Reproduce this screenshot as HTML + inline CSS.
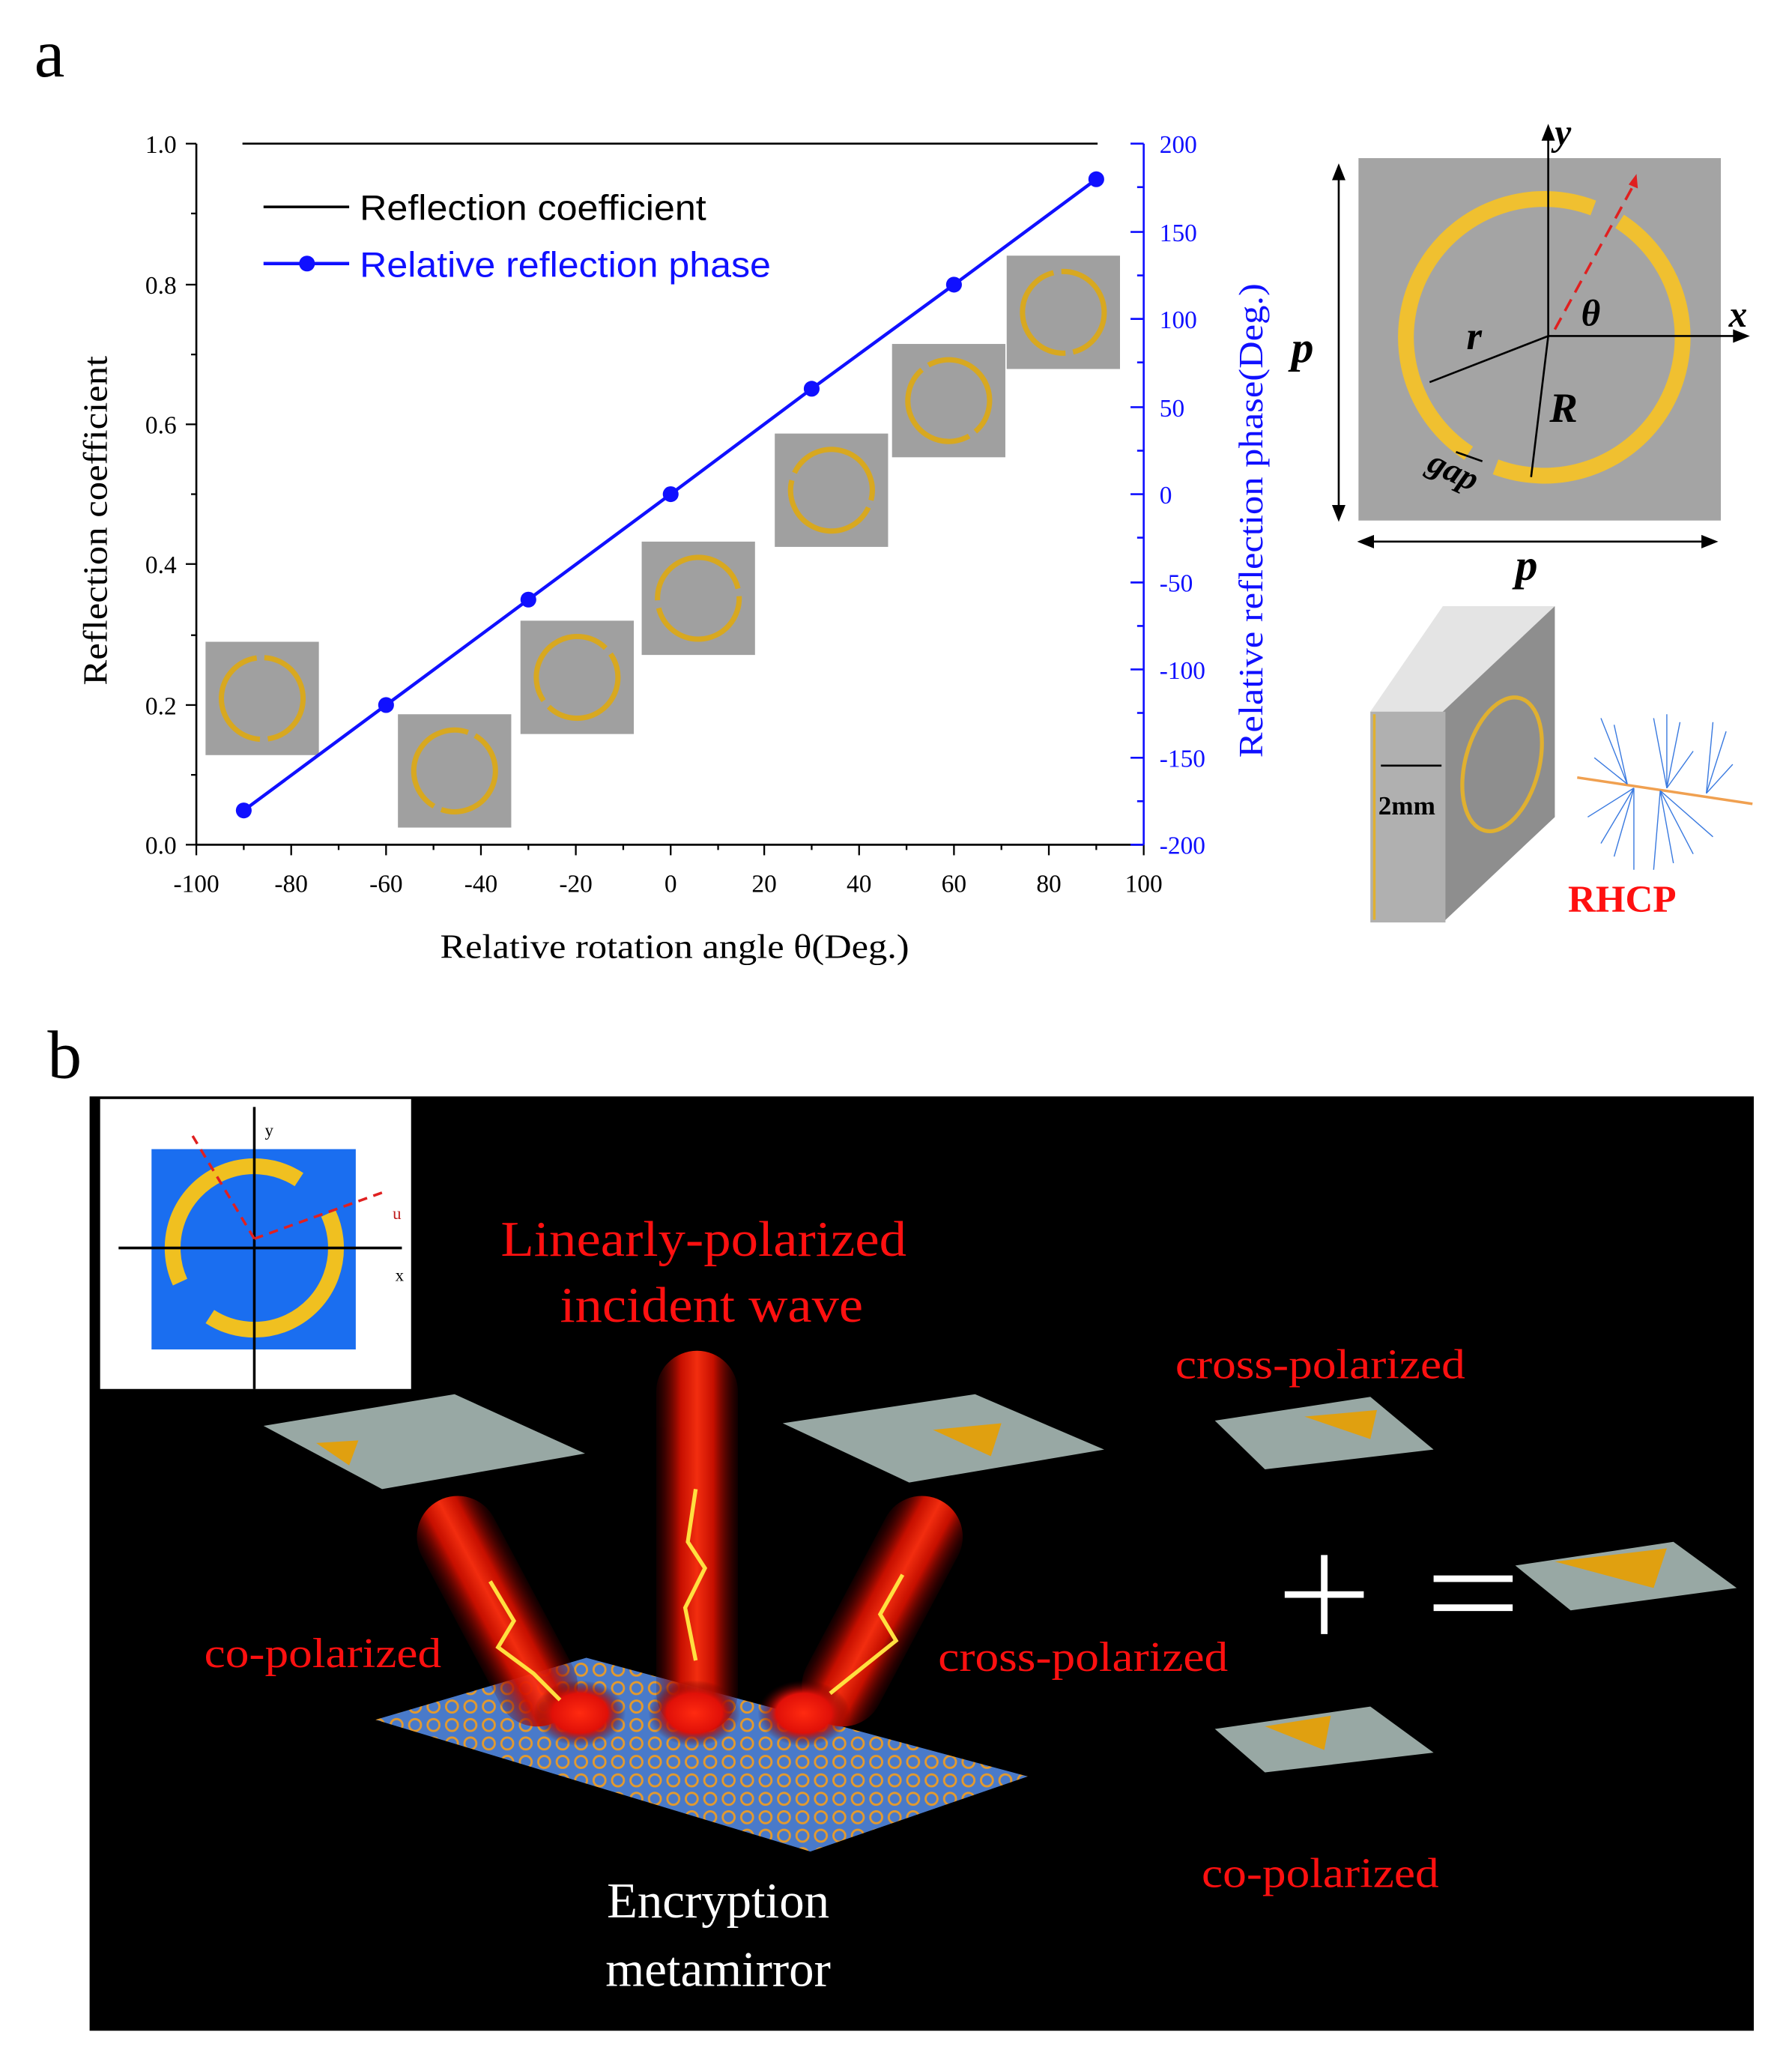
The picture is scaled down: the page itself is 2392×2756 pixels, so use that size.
<!DOCTYPE html>
<html><head><meta charset="utf-8"><style>
html,body{margin:0;padding:0;background:#fff;}
svg{display:block;}
text{font-family:"Liberation Serif",serif;}
</style></head><body>
<svg width="2392" height="2756" viewBox="0 0 1360 1567" preserveAspectRatio="none" xmlns="http://www.w3.org/2000/svg">
<defs>
<radialGradient id="glow" cx="50%" cy="50%" r="50%"><stop offset="0" stop-color="#ff2a10"/><stop offset="0.6" stop-color="#e01008"/><stop offset="1" stop-color="#400" stop-opacity="0"/></radialGradient>
<linearGradient id="beam" x1="0" x2="1"><stop offset="0" stop-color="#5a0000" stop-opacity="0.2"/><stop offset="0.3" stop-color="#d01000"/><stop offset="0.5" stop-color="#ff3010"/><stop offset="0.7" stop-color="#d01000"/><stop offset="1" stop-color="#5a0000" stop-opacity="0.2"/></linearGradient>
<pattern id="rings" width="14" height="14" patternUnits="userSpaceOnUse"><rect width="14" height="14" fill="#2a8ae8"/><circle cx="7" cy="7" r="4.5" fill="none" stroke="#e0b030" stroke-width="1.6"/></pattern>
</defs>
<rect width="1360" height="1567" fill="#fff"/>
<!-- Panel a -->
<text x="26" y="58" font-size="52">a</text>
<g stroke="#000" stroke-width="1.5" fill="none">
<line x1="149" y1="109" x2="149" y2="641"/>
<line x1="149" y1="641" x2="868" y2="641"/>
<line x1="184" y1="109" x2="833" y2="109"/>
</g>
<g stroke="#000" stroke-width="1.3">
<line x1="141" y1="109" x2="149" y2="109"/><line x1="145" y1="162" x2="149" y2="162"/>
<line x1="141" y1="216" x2="149" y2="216"/><line x1="145" y1="269" x2="149" y2="269"/>
<line x1="141" y1="322" x2="149" y2="322"/><line x1="145" y1="375" x2="149" y2="375"/>
<line x1="141" y1="428" x2="149" y2="428"/><line x1="145" y1="482" x2="149" y2="482"/>
<line x1="141" y1="535" x2="149" y2="535"/><line x1="145" y1="588" x2="149" y2="588"/>
<line x1="141" y1="641" x2="149" y2="641"/>
<line x1="149" y1="641" x2="149" y2="649"/><line x1="185" y1="641" x2="185" y2="645"/>
<line x1="221" y1="641" x2="221" y2="649"/><line x1="257" y1="641" x2="257" y2="645"/>
<line x1="293" y1="641" x2="293" y2="649"/><line x1="329" y1="641" x2="329" y2="645"/>
<line x1="365" y1="641" x2="365" y2="649"/><line x1="401" y1="641" x2="401" y2="645"/>
<line x1="437" y1="641" x2="437" y2="649"/><line x1="473" y1="641" x2="473" y2="645"/>
<line x1="509" y1="641" x2="509" y2="649"/><line x1="545" y1="641" x2="545" y2="645"/>
<line x1="580" y1="641" x2="580" y2="649"/><line x1="616" y1="641" x2="616" y2="645"/>
<line x1="652" y1="641" x2="652" y2="649"/><line x1="688" y1="641" x2="688" y2="645"/>
<line x1="724" y1="641" x2="724" y2="649"/><line x1="760" y1="641" x2="760" y2="645"/>
<line x1="796" y1="641" x2="796" y2="649"/><line x1="832" y1="641" x2="832" y2="645"/>
<line x1="868" y1="641" x2="868" y2="649"/>
</g>
<g font-size="19" text-anchor="end">
<text x="134" y="116">1.0</text><text x="134" y="223">0.8</text><text x="134" y="329">0.6</text>
<text x="134" y="435">0.4</text><text x="134" y="542">0.2</text><text x="134" y="648">0.0</text>
</g>
<g font-size="19" text-anchor="middle">
<text x="149" y="677">-100</text><text x="221" y="677">-80</text><text x="293" y="677">-60</text>
<text x="365" y="677">-40</text><text x="437" y="677">-20</text><text x="509" y="677">0</text>
<text x="580" y="677">20</text><text x="652" y="677">40</text><text x="724" y="677">60</text>
<text x="796" y="677">80</text><text x="868" y="677">100</text>
</g>
<text x="334" y="727" font-size="26" textLength="356" lengthAdjust="spacingAndGlyphs">Relative rotation angle θ(Deg.)</text>
<text transform="translate(81,520) rotate(-90)" font-size="26" textLength="250" lengthAdjust="spacingAndGlyphs">Reflection coefficient</text>
<g stroke="#1010ff" stroke-width="1.5">
<line x1="868" y1="109" x2="868" y2="641"/>
<line x1="858" y1="109" x2="868" y2="109"/><line x1="863" y1="142" x2="868" y2="142"/>
<line x1="858" y1="176" x2="868" y2="176"/><line x1="863" y1="209" x2="868" y2="209"/>
<line x1="858" y1="242" x2="868" y2="242"/><line x1="863" y1="275" x2="868" y2="275"/>
<line x1="858" y1="309" x2="868" y2="309"/><line x1="863" y1="342" x2="868" y2="342"/>
<line x1="858" y1="375" x2="868" y2="375"/><line x1="863" y1="408" x2="868" y2="408"/>
<line x1="858" y1="442" x2="868" y2="442"/><line x1="863" y1="475" x2="868" y2="475"/>
<line x1="858" y1="508" x2="868" y2="508"/><line x1="863" y1="541" x2="868" y2="541"/>
<line x1="858" y1="575" x2="868" y2="575"/><line x1="863" y1="608" x2="868" y2="608"/>
<line x1="858" y1="641" x2="868" y2="641"/>
</g>
<g font-size="19" fill="#1010ff">
<text x="880" y="116">200</text><text x="880" y="183">150</text><text x="880" y="249">100</text>
<text x="880" y="316">50</text><text x="880" y="382">0</text><text x="880" y="449">-50</text>
<text x="880" y="515">-100</text><text x="880" y="582">-150</text><text x="880" y="648">-200</text>
</g>
<text transform="translate(958,575) rotate(-90)" font-size="26" fill="#1010ff" textLength="360" lengthAdjust="spacingAndGlyphs">Relative reflection phase(Deg.)</text>
<line x1="200" y1="157" x2="265" y2="157" stroke="#000" stroke-width="2"/>
<text x="273" y="167" font-size="27" textLength="263" lengthAdjust="spacingAndGlyphs" style="font-family:'Liberation Sans',sans-serif">Reflection coefficient</text>
<line x1="200" y1="200" x2="265" y2="200" stroke="#1010ff" stroke-width="2.5"/>
<circle cx="233" cy="200" r="6" fill="#1010ff"/>
<text x="273" y="210" font-size="27" fill="#1010ff" textLength="312" lengthAdjust="spacingAndGlyphs" style="font-family:'Liberation Sans',sans-serif">Relative reflection phase</text>
<g>
<g transform="translate(199,530)"><rect x="-43" y="-43" width="86" height="86" fill="#a0a0a0"/><circle r="31" fill="none" stroke="#d8a820" stroke-width="4" stroke-dasharray="91.4 6" transform="rotate(-87)"/></g>
<g transform="translate(345,585)"><rect x="-43" y="-43" width="86" height="86" fill="#a0a0a0"/><circle r="31" fill="none" stroke="#d8a820" stroke-width="4" stroke-dasharray="91.4 6" transform="rotate(-60)"/></g>
<g transform="translate(438,514)"><rect x="-43" y="-43" width="86" height="86" fill="#a0a0a0"/><circle r="31" fill="none" stroke="#d8a820" stroke-width="4" stroke-dasharray="91.4 6" transform="rotate(-35)"/></g>
<g transform="translate(530,454)"><rect x="-43" y="-43" width="86" height="86" fill="#a0a0a0"/><circle r="31" fill="none" stroke="#d8a820" stroke-width="4" stroke-dasharray="91.4 6" transform="rotate(-3)"/></g>
<g transform="translate(631,372)"><rect x="-43" y="-43" width="86" height="86" fill="#a0a0a0"/><circle r="31" fill="none" stroke="#d8a820" stroke-width="4" stroke-dasharray="91.4 6" transform="rotate(25)"/></g>
<g transform="translate(720,304)"><rect x="-43" y="-43" width="86" height="86" fill="#a0a0a0"/><circle r="31" fill="none" stroke="#d8a820" stroke-width="4" stroke-dasharray="91.4 6" transform="rotate(60)"/></g>
<g transform="translate(807,237)"><rect x="-43" y="-43" width="86" height="86" fill="#a0a0a0"/><circle r="31" fill="none" stroke="#d8a820" stroke-width="4" stroke-dasharray="91.4 6" transform="rotate(87)"/></g>
</g>
<polyline points="185,615 293,535 401,455 509,375 616,295 724,216 832,136" fill="none" stroke="#1010ff" stroke-width="2.5"/>
<g fill="#1010ff">
<circle cx="185" cy="615" r="6"/><circle cx="293" cy="535" r="6"/><circle cx="401" cy="455" r="6"/>
<circle cx="509" cy="375" r="6"/><circle cx="616" cy="295" r="6"/><circle cx="724" cy="216" r="6"/><circle cx="832" cy="136" r="6"/>
</g>
<!-- unit cell diagram -->
<rect x="1031" y="120" width="275" height="275" fill="#a4a4a4"/>
<circle cx="1172" cy="256" r="105" fill="none" stroke="#f0c030" stroke-width="12" stroke-dasharray="307 23" transform="rotate(-57 1172 256)"/>
<g stroke="#000" stroke-width="1.5" fill="none">
<line x1="1175" y1="255" x2="1175" y2="100"/><path d="M1171,106 L1175,96 L1179,106Z" fill="#000"/>
<line x1="1175" y1="255" x2="1320" y2="255"/><path d="M1316,251 L1326,255 L1316,259Z" fill="#000"/>
<line x1="1175" y1="255" x2="1085" y2="290"/><line x1="1175" y1="255" x2="1162" y2="362"/>
<line x1="1016" y1="130" x2="1016" y2="390"/><path d="M1012,136 L1016,126 L1020,136Z M1012,384 L1016,394 L1020,384Z" fill="#000"/>
<line x1="1036" y1="411" x2="1298" y2="411"/><path d="M1042,407 L1032,411 L1042,415Z M1292,407 L1302,411 L1292,415Z" fill="#000"/>
<line x1="1105" y1="343" x2="1125" y2="350"/>
</g>
<line x1="1180" y1="250" x2="1240" y2="140" stroke="#e02020" stroke-width="2" stroke-dasharray="10 6"/>
<path d="M1236,140 L1242,132 L1243,143Z" fill="#e02020"/>
<g font-family="Liberation Serif" font-weight="bold" font-style="italic">
<text x="1180" y="110" font-size="28">y</text>
<text x="1312" y="248" font-size="28">x</text>
<text x="1200" y="247" font-size="28">θ</text>
<text x="1113" y="265" font-size="30">r</text>
<text x="1176" y="320" font-size="32">R</text>
<text x="980" y="275" font-size="34">p</text>
<text x="1150" y="440" font-size="34">p</text>
<text x="1080" y="365" font-size="26" transform="rotate(25 1100 365)">gap</text>
</g>
<polygon points="1040,540 1095,460 1180,460 1125,540" fill="#e4e4e4"/>
<polygon points="1095,540 1180,460 1180,620 1095,700" fill="#8e8e8e"/>
<polygon points="1040,540 1097,540 1097,700 1040,700" fill="#b0b0b0"/>
<line x1="1043" y1="542" x2="1043" y2="698" stroke="#e0b030" stroke-width="2"/>
<ellipse cx="1140" cy="580" rx="28" ry="52" fill="none" stroke="#e0b030" stroke-width="3" transform="rotate(15 1140 580)"/>
<line x1="1048" y1="581" x2="1094" y2="581" stroke="#000" stroke-width="1.5"/>
<text x="1046" y="618" font-size="20" font-weight="bold">2mm</text>
<line x1="1197" y1="590" x2="1330" y2="610" stroke="#f0a050" stroke-width="2"/>
<g stroke="#3a7ae0" stroke-width="0.8">
<line x1="1235" y1="595" x2="1215" y2="545"/><line x1="1235" y1="595" x2="1225" y2="550"/><line x1="1235" y1="595" x2="1210" y2="575"/>
<line x1="1265" y1="598" x2="1255" y2="545"/><line x1="1265" y1="598" x2="1265" y2="542"/><line x1="1265" y1="598" x2="1275" y2="548"/><line x1="1265" y1="598" x2="1285" y2="570"/>
<line x1="1295" y1="602" x2="1300" y2="548"/><line x1="1295" y1="602" x2="1310" y2="555"/><line x1="1295" y1="602" x2="1315" y2="580"/>
<line x1="1240" y1="598" x2="1215" y2="640"/><line x1="1240" y1="598" x2="1225" y2="650"/><line x1="1240" y1="598" x2="1240" y2="660"/>
<line x1="1260" y1="600" x2="1255" y2="660"/><line x1="1260" y1="600" x2="1270" y2="655"/><line x1="1260" y1="600" x2="1285" y2="648"/>
<line x1="1260" y1="600" x2="1300" y2="635"/><line x1="1240" y1="598" x2="1205" y2="620"/>
</g>
<text x="1190" y="692" font-size="29" font-weight="bold" fill="#ff1010">RHCP</text>
<!-- Panel b -->
<text x="36" y="818" font-size="52">b</text>
<rect x="68" y="832" width="1263" height="709" fill="#000"/>
<rect x="76" y="834" width="236" height="220" fill="#fff"/>
<rect x="115" y="872" width="155" height="152" fill="#1a6ef0"/>
<circle cx="193" cy="947" r="62" fill="none" stroke="#f0c020" stroke-width="12" stroke-dasharray="160 35 160 35" transform="rotate(-25 193 947)"/>
<line x1="193" y1="840" x2="193" y2="1054" stroke="#000" stroke-width="2"/>
<line x1="90" y1="947" x2="305" y2="947" stroke="#000" stroke-width="2"/>
<line x1="193" y1="940" x2="145" y2="860" stroke="#e02020" stroke-width="2" stroke-dasharray="7 5"/>
<line x1="193" y1="940" x2="290" y2="905" stroke="#e02020" stroke-width="2" stroke-dasharray="7 5"/>
<text x="201" y="862" font-size="13">y</text><text x="300" y="972" font-size="13">x</text><text x="298" y="925" font-size="13" fill="#c02020">u</text>
<g fill="#98a8a4">
<polygon points="200,1082 345,1058 444,1103 290,1130"/>
<polygon points="594,1080 740,1058 838,1100 690,1125"/>
<polygon points="922,1078 1040,1060 1088,1100 960,1115"/>
<polygon points="1150,1188 1270,1170 1318,1205 1192,1222"/>
<polygon points="922,1312 1040,1295 1088,1330 960,1345"/>
</g>
<g fill="#e0a010">
<polygon points="240,1095 272,1093 265,1112"/><polygon points="708,1085 760,1080 752,1105"/>
<polygon points="990,1075 1045,1070 1040,1092"/><polygon points="1180,1185 1265,1175 1255,1205"/>
<polygon points="960,1310 1010,1302 1005,1328"/>
</g>
<polygon points="285,1305 445,1258 780,1348 615,1405" fill="url(#rings)"/>
<polygon points="285,1305 445,1258 780,1348 615,1405" fill="#ff2020" fill-opacity="0.15"/>
<g opacity="0.95">
<rect x="498" y="1025" width="62" height="290" rx="31" fill="url(#beam)"/>
<rect x="345" y="1128" width="62" height="190" rx="31" fill="url(#beam)" transform="rotate(-28 376 1220)"/>
<rect x="640" y="1128" width="62" height="190" rx="31" fill="url(#beam)" transform="rotate(28 671 1220)"/>
</g>
<g fill="url(#glow)"><ellipse cx="440" cy="1300" rx="35" ry="25"/><ellipse cx="527" cy="1300" rx="35" ry="25"/><ellipse cx="610" cy="1300" rx="35" ry="25"/></g>
<g fill="none" stroke="#ffe040" stroke-width="3">
<path d="M528,1130 L522,1170 L535,1190 L520,1220 L528,1260"/>
<path d="M372,1200 L390,1230 L378,1250 L405,1270 L425,1290"/>
<path d="M685,1195 L668,1225 L680,1245 L655,1265 L630,1285"/>
</g>
<g font-size="38" fill="#ff1010">
<text x="380" y="953" textLength="308" lengthAdjust="spacingAndGlyphs">Linearly-polarized</text>
<text x="425" y="1003" textLength="230" lengthAdjust="spacingAndGlyphs">incident wave</text>
</g>
<g font-size="32" fill="#ff1010">
<text x="892" y="1046" textLength="220" lengthAdjust="spacingAndGlyphs">cross-polarized</text>
<text x="155" y="1265" textLength="180" lengthAdjust="spacingAndGlyphs">co-polarized</text>
<text x="712" y="1268" textLength="220" lengthAdjust="spacingAndGlyphs">cross-polarized</text>
<text x="912" y="1432" textLength="180" lengthAdjust="spacingAndGlyphs">co-polarized</text>
</g>
<g font-size="38" fill="#fff" text-anchor="middle">
<text x="545" y="1455">Encryption</text><text x="545" y="1507">metamirror</text>
</g>
<g stroke="#fff" stroke-width="5">
<line x1="975" y1="1210" x2="1035" y2="1210"/><line x1="1005" y1="1180" x2="1005" y2="1240"/>
<line x1="1088" y1="1198" x2="1148" y2="1198"/><line x1="1088" y1="1220" x2="1148" y2="1220"/>
</g>
</svg>
</body></html>
